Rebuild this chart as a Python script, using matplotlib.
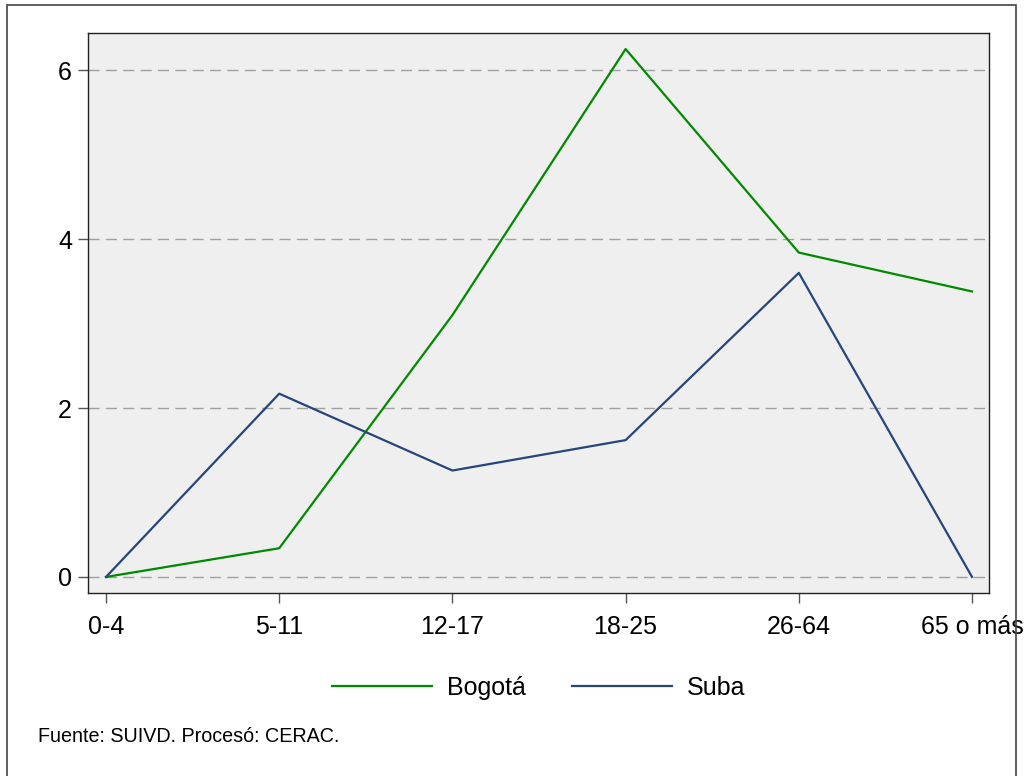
import matplotlib
matplotlib.use("Agg")
import matplotlib.pyplot as plt
from matplotlib.patches import Rectangle

plt.rcParams['font.family'] = ['Liberation Sans', 'DejaVu Sans']

categories = ["0-4", "5-11", "12-17", "18-25", "26-64", "65 o más"]
bogota = [0.0, 0.34, 3.10, 6.25, 3.84, 3.38]
suba = [0.0, 2.17, 1.26, 1.62, 3.60, 0.0]
yticks = [0, 2, 4, 6]
source_note = "Fuente: SUIVD. Procesó: CERAC."

W, H = 1030, 776
fig = plt.figure(figsize=(W / 100, H / 100), dpi=100)
fig.patch.set_facecolor("white")

# outer frame
fig.patches.append(Rectangle((7 / W, -0.05), (1016 - 7) / W, 1.05 - 5 / H,
                             transform=fig.transFigure, fill=False,
                             edgecolor="#444444", linewidth=1.2))

ax = fig.add_axes([88 / W, 1 - 593 / H, (989 - 88) / W, (593 - 33) / H])
ax.set_facecolor("#efefef")

x = list(range(len(categories)))
ax.plot(x, bogota, color="#008a00", linewidth=1.6, label="Bogotá", zorder=3)
ax.plot(x, suba, color="#26457a", linewidth=1.6, label="Suba", zorder=3)

ax.set_xlim(-0.104, 5.098)
ax.set_ylim(-0.19, 6.44)
ax.set_yticks(yticks)
ax.set_yticklabels([str(v) for v in yticks])
ax.set_xticks(x)
ax.set_xticklabels(categories)

for v in yticks:
    ax.axhline(v, color="#a0a0a0", linewidth=1.0, dashes=(8, 4.5), zorder=1)

for s in ax.spines.values():
    s.set_color("#222222")
    s.set_linewidth(1.0)

ax.tick_params(axis="both", labelsize=18, length=7.5, width=1.0,
               color="#555555", labelcolor="black")
ax.tick_params(axis="x", pad=8.5)
ax.tick_params(axis="y", pad=4)

handles, labels = ax.get_legend_handles_labels()
fig.legend(handles, labels, loc="center", bbox_to_anchor=(538.5 / W, 1 - 688 / H),
           ncol=2, frameon=False, fontsize=18, handlelength=4.0,
           handletextpad=0.6, columnspacing=1.85)

fig.text(38 / W, 1 - 736 / H, source_note, fontsize=14.2, ha="left", va="center")

fig.savefig("out.png", dpi=100)
